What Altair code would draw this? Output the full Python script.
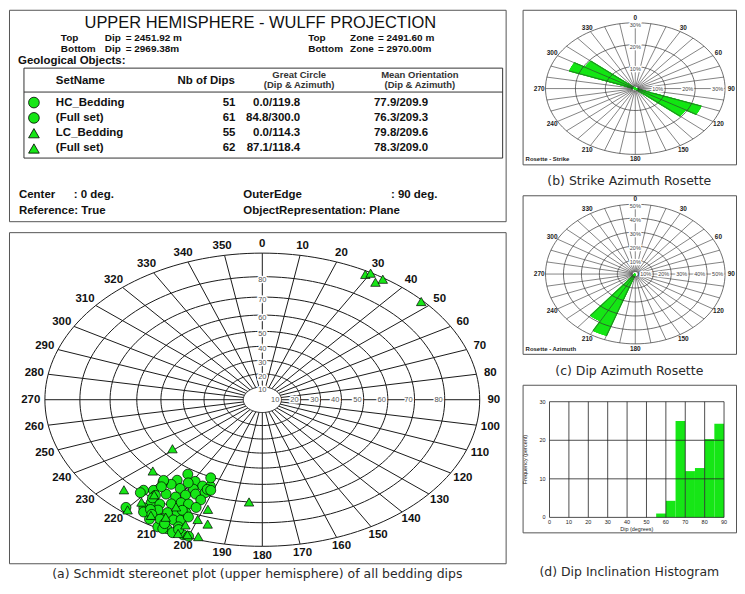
import math
import numpy as np
import pandas as pd
import altair as alt

# ----------------------------- data -----------------------------
table_title = "UPPER HEMISPHERE - WULFF PROJECTION"
set_names = ["HC_Bedding", "(Full set)", "LC_Bedding", "(Full set)"]
set_markers = ["circle", "circle", "triangle-up", "triangle-up"]
nb_dips = [51, 61, 55, 62]
great_circle = ["0.0/119.8", "84.8/300.0", "0.0/114.3", "87.1/118.4"]
mean_orientation = ["77.9/209.9", "76.3/209.3", "79.8/209.6", "78.3/209.0"]

# HC_Bedding poles (azimuth, dip) read from the stereonet (circles)
hc_azimuth = [214, 215.5, 209, 205, 202, 207.5, 212, 216, 219, 219, 221.5, 217, 214.5, 211,
              208.5, 205.5, 202.5, 216, 213.5, 210.5, 208, 205.5, 212.5, 209.5, 207, 209.5,
              206.5, 204.5, 220.5, 209, 206.5, 204, 207.5, 204.5, 201.5, 203.5, 200, 212.5,
              216.5, 215.5, 221.5, 204, 219.5, 202.5, 202.5, 201, 204.5, 202.5, 214.5, 218,
              211, 213, 206, 203, 210, 217, 208]
hc_dip = [63, 68, 65, 66, 65, 69, 71, 71, 72, 77, 79, 78.5, 76, 75.5,
          73, 71, 69, 82, 81, 79, 77, 76.5, 83.5, 83, 81.5, 86,
          85, 84, 88, 89.5, 89, 87, 89.5, 89.8, 89.5, 88, 89.5, 88,
          85, 86.5, 80.5, 60.5, 71, 67, 73, 67, 80.5, 77, 84.5, 74,
          67, 86, 80, 82, 86.5, 80, 87.5]
# LC_Bedding (triangles)
lc_azimuth = [231, 226, 226, 219.5, 218.5, 198.5, 200, 196.5, 185, 197.5, 203, 200.5,
              213, 217.5, 209, 202.5, 208.5, 29, 30, 33, 34, 47.5]
lc_dip = [56, 70, 83, 88.5, 83.5, 76.5, 82, 83, 70, 88.8, 89.5, 89,
          86.5, 78.5, 85, 85.5, 79.5, 88.7, 89.8, 87.4, 89.5, 89.5]

azimuth_ticks = list(range(0, 360, 10))
dip_rings = [10, 20, 30, 40, 50, 60, 70, 80, 90]

strike_rings = [10, 20, 30]
strike_bin_start = [110, 120, 290, 300]
strike_pct = [23.5, 19.5, 23.5, 19.5]

dipaz_rings = [10, 20, 30, 40, 50]
dipaz_bin_start = [200, 210]
dipaz_pct = [47, 39]

hist_bin_start = [55, 60, 65, 70, 75, 80, 85]
hist_pct = [1.0, 4.3, 25.0, 12.0, 12.8, 20.3, 24.3]
hist_xticks = [0, 10, 20, 30, 40, 50, 60, 70, 80, 90]
hist_yticks = [0, 10, 20, 30]

caption_a = "(a) Schmidt stereonet plot (upper hemisphere) of all bedding dips"
caption_b = "(b) Strike Azimuth Rosette"
caption_c = "(c) Dip Azimuth Rosette"
caption_d = "(d) Dip Inclination Histogram"

# ----------------------------- style -----------------------------
GREEN = "#16e616"
LF = "Liberation Sans"
CF = "DejaVu Sans"
INK = "#111111"


def qx(field, dom):
    return alt.X(field, type="quantitative", axis=None,
                 scale=alt.Scale(domain=dom, nice=False, zero=False))


def qy(field, dom, rev=False):
    return alt.Y(field, type="quantitative", axis=None,
                 scale=alt.Scale(domain=dom, nice=False, zero=False, reverse=rev))


def caption(text, offset):
    return alt.TitleParams(text=text, orient="bottom", anchor="middle", offset=offset,
                           font=CF, fontSize=12.5, fontWeight="normal", color="#2a2a2a")


# ----------------------------- (top-left) table -----------------------------
TW, TH, TD = 498, 212, 221
TXD, TYD = [0, TW], [0, TD]
row_y = [97, 113, 129, 145]


def tlayer(records, **mk):
    df = pd.DataFrame(records, columns=["x", "y", "t"])
    return alt.Chart(df).mark_text(**mk).encode(
        x=qx("x", TXD), y=qy("y", TYD, True), text="t:N")


def bold(size):
    return dict(font=LF, fontWeight="bold", fontSize=size, baseline="middle", color=INK)


head_recs = [(52, 29, "Top"), (96, 29, "Dip"), (117, 29, "= 2451.92 m"),
             (52, 41, "Bottom"), (96, 41, "Dip"), (117, 41, "= 2969.38m"),
             (300, 29, "Top"), (342, 29, "Zone"), (370, 29, "= 2491.60 m"),
             (300, 41, "Bottom"), (342, 41, "Zone"), (370, 41, "= 2970.00m")]
left_recs = [(9, 54, "Geological Objects:"),
             (47, 74, "SetName"), (169, 74, "Nb of Dips"),
             (10, 194, "Center"), (65, 194, ": 0 deg."),
             (235, 194, "OuterEdge"), (383, 194, ": 90 deg."),
             (10, 210, "Reference: True"), (235, 210, "ObjectRepresentation: Plane")]
right_recs = []
for i in range(len(set_names)):
    left_recs.append((47, row_y[i], set_names[i]))
    left_recs.append((366, row_y[i], mean_orientation[i]))
    right_recs.append((227, row_y[i], str(nb_dips[i])))
    right_recs.append((292, row_y[i], great_circle[i]))
center_recs = [(291, 68, "Great Circle"), (291, 79, "(Dip & Azimuth)"),
               (412, 68, "Mean Orientation"), (412, 79, "(Dip & Azimuth)")]

marker_df = pd.DataFrame({"x": [25] * 4, "y": row_y, "s": set_markers})
table_markers = alt.Chart(marker_df).mark_point(
    filled=True, size=115, fill=GREEN, stroke="black", strokeWidth=0.8, opacity=1
).encode(x=qx("x", TXD), y=qy("y", TYD, True),
         shape=alt.Shape("s:N", legend=None,
                         scale=alt.Scale(domain=["circle", "triangle-up"],
                                         range=["circle", "triangle-up"])))

# table frame: outer box edges + header separator (layout lines)
frame_df = pd.DataFrame({"x": [15, 15, 15, 495, 15], "x2": [495, 495, 495, 495, 15],
                         "y": [61, 155, 86, 61, 61], "y2": [61, 155, 86, 155, 155]})
table_frame = alt.Chart(frame_df).mark_rule(color="#333", strokeWidth=1).encode(
    x=qx("x", TXD), x2="x2:Q", y=qy("y", TYD, True), y2="y2:Q")

table = alt.layer(
    table_frame,
    tlayer([(252, 14, table_title)], font=LF, fontSize=16.5, align="center",
           baseline="middle", color=INK),
    tlayer(head_recs, align="left", **bold(10)),
    tlayer(left_recs, align="left", **bold(11.5)),
    tlayer(right_recs, align="right", **bold(11.5)),
    tlayer(center_recs, align="center", font=LF, fontWeight="bold", fontSize=9.5,
           baseline="middle", color="#333"),
    table_markers,
).properties(width=TW, height=TH)

# ----------------------------- (a) stereonet -----------------------------
SW, SH = 498, 332
SCX, SCY, SRX, SRY = 254, 168, 218, 147
SXD = [-SCX / SRX, (SW - SCX) / SRX]
SYD = [-(SH - SCY) / SRY, SCY / SRY]


def wulff(d):
    return math.tan(math.radians(d / 2.0))


ring_rows = []
for d in dip_rings:
    r = wulff(d)
    for k, a in enumerate(range(0, 361, 2)):
        t = math.radians(a)
        ring_rows.append({"ring": d, "k": k, "u": r * math.sin(t), "v": r * math.cos(t)})
rings_df = pd.DataFrame(ring_rows)

r_in = wulff(dip_rings[0])
rad_df = pd.DataFrame([{"u": r_in * math.sin(math.radians(a)), "v": r_in * math.cos(math.radians(a)),
                        "u2": math.sin(math.radians(a)), "v2": math.cos(math.radians(a))}
                       for a in azimuth_ticks])

az_df = pd.DataFrame([{"u": 1.065 * math.sin(math.radians(a)), "v": 1.065 * math.cos(math.radians(a)),
                       "t": str(a)} for a in azimuth_ticks])
hlab_df = pd.DataFrame([{"u": wulff(d), "v": 0.0, "t": str(d)} for d in dip_rings[:-1]])
vlab_df = pd.DataFrame([{"u": 0.0, "v": wulff(d), "t": str(d)} for d in dip_rings[:-1]])


def pole_df(az, dip):
    return pd.DataFrame({"u": [wulff(d) * math.sin(math.radians(a)) for a, d in zip(az, dip)],
                         "v": [wulff(d) * math.cos(math.radians(a)) for a, d in zip(az, dip)]})


def s_text(df, **mk):
    return alt.Chart(df).mark_text(**mk).encode(x=qx("u", SXD), y=qy("v", SYD), text="t:N")


stereo = alt.layer(
    alt.Chart(rings_df).mark_line(color="#1a1a1a", strokeWidth=1).encode(
        x=qx("u", SXD), y=qy("v", SYD), detail="ring:N", order="k:Q"),
    alt.Chart(rad_df).mark_rule(color="#1a1a1a", strokeWidth=1).encode(
        x=qx("u", SXD), y=qy("v", SYD), x2="u2:Q", y2="v2:Q"),
    s_text(hlab_df, font=LF, fontSize=7.5, align="right", dx=-2, baseline="middle",
           stroke="white", strokeWidth=3, color="white"),
    s_text(hlab_df, font=LF, fontSize=7.5, align="right", dx=-2, baseline="middle", color="#555"),
    s_text(vlab_df, font=LF, fontSize=7.5, align="center", dy=3, baseline="middle",
           stroke="white", strokeWidth=3, color="white"),
    s_text(vlab_df, font=LF, fontSize=7.5, align="center", dy=3, baseline="middle", color="#555"),
    s_text(az_df, font=LF, fontWeight="bold", fontSize=11.5, align="center", baseline="middle",
           color=INK),
    alt.Chart(pole_df(hc_azimuth, hc_dip)).mark_point(
        shape="circle", filled=True, fill=GREEN, stroke="black", strokeWidth=0.7, size=100, opacity=1
    ).encode(x=qx("u", SXD), y=qy("v", SYD)),
    alt.Chart(pole_df(lc_azimuth, lc_dip)).mark_point(
        shape="triangle-up", filled=True, fill=GREEN, stroke="black", strokeWidth=0.7, size=90,
        opacity=1
    ).encode(x=qx("u", SXD), y=qy("v", SYD)),
).properties(width=SW, height=SH, title=caption(caption_a, 5))


# ----------------------------- rosettes -----------------------------
def rosette(W, H, cx, cy, rx, ry, rings, bins, pcts, corner, cap, cap_off):
    maxp = rings[-1]
    XD = [-cx / rx, (W - cx) / rx]
    YD = [-(H - cy) / ry, cy / ry]
    pet = []
    for b, p in zip(bins, pcts):
        r = p / maxp
        for a in np.arange(b, b + 10.0001, 0.2):
            t = math.radians(a)
            pet.append({"u": 0.0, "v": 0.0, "u2": r * math.sin(t), "v2": r * math.cos(t)})
    ring_rows = []
    for p in rings:
        r = p / maxp
        for k, a in enumerate(range(0, 361, 3)):
            t = math.radians(a)
            ring_rows.append({"ring": p, "k": k, "u": r * math.sin(t), "v": r * math.cos(t)})
    rad = [{"u": 0.03 * math.sin(math.radians(a)), "v": 0.03 * math.cos(math.radians(a)),
            "u2": math.sin(math.radians(a)), "v2": math.cos(math.radians(a))}
           for a in azimuth_ticks]
    azl = [{"u": 1.07 * math.sin(math.radians(a)), "v": 1.07 * math.cos(math.radians(a)),
            "t": str(a)} for a in range(0, 360, 30)]
    hl = [{"u": p / maxp, "v": 0.0, "t": f"{p}%"} for p in rings]
    vl = [{"u": 0.0, "v": p / maxp, "t": f"{p}%"} for p in rings]
    corner_df = pd.DataFrame({"u": [XD[0]], "v": [YD[0]], "t": [corner]})

    def txt(rows, **mk):
        return alt.Chart(pd.DataFrame(rows)).mark_text(**mk).encode(
            x=qx("u", XD), y=qy("v", YD), text="t:N")

    return alt.layer(
        alt.Chart(pd.DataFrame(pet)).mark_rule(color=GREEN, strokeWidth=1.4).encode(
            x=qx("u", XD), y=qy("v", YD), x2="u2:Q", y2="v2:Q"),
        alt.Chart(pd.DataFrame(ring_rows)).mark_line(color="#333", strokeWidth=0.7).encode(
            x=qx("u", XD), y=qy("v", YD), detail="ring:N", order="k:Q"),
        alt.Chart(pd.DataFrame(rad)).mark_rule(color="#333", strokeWidth=0.6).encode(
            x=qx("u", XD), y=qy("v", YD), x2="u2:Q", y2="v2:Q"),
        txt(hl, font=LF, fontSize=5.5, align="right", dx=-2, baseline="middle",
            stroke="white", strokeWidth=2.5, color="white"),
        txt(hl, font=LF, fontSize=5.5, align="right", dx=-2, baseline="middle", color="#444"),
        txt(vl, font=LF, fontSize=5.5, align="center", dy=2, baseline="middle",
            stroke="white", strokeWidth=2.5, color="white"),
        txt(vl, font=LF, fontSize=5.5, align="center", dy=2, baseline="middle", color="#444"),
        txt(azl, font=LF, fontWeight="bold", fontSize=6.5, align="center", baseline="middle",
            color="#222"),
        txt(corner_df, font=LF, fontWeight="bold", fontSize=6, align="left", baseline="bottom",
            dx=3, dy=-2, color="#222"),
    ).properties(width=W, height=H, title=caption(cap, cap_off))


strike = rosette(214, 155, 113, 79, 90, 66, strike_rings, strike_bin_start, strike_pct,
                 "Rosette - Strike", caption_b, 11)
dipaz = rosette(214, 159, 113, 79, 90, 70, dipaz_rings, dipaz_bin_start, dipaz_pct,
                "Rosette - Azimuth", caption_c, 11)

# ----------------------------- (d) histogram -----------------------------
HW, HH = 214, 148
hx0, hx90, hy0, hy30 = 27, 202, 133, 17
HXD = [-hx0 * 90 / (hx90 - hx0), (HW - hx0) * 90 / (hx90 - hx0)]
HYD = [-(HH - hy0) * 30 / (hy0 - hy30), hy0 * 30 / (hy0 - hy30)]

bars_df = pd.DataFrame({"x0": hist_bin_start, "x1": [b + 5 for b in hist_bin_start],
                        "pct": hist_pct, "zero": [0.0] * len(hist_pct)})
vgrid = pd.DataFrame({"x": hist_xticks, "y": [0] * len(hist_xticks),
                      "y2": [hist_yticks[-1]] * len(hist_xticks)})
hgrid = pd.DataFrame({"y": hist_yticks, "x": [0] * len(hist_yticks),
                      "x2": [hist_xticks[-1]] * len(hist_yticks)})
xt = pd.DataFrame({"x": hist_xticks, "y": [0] * len(hist_xticks), "t": [str(v) for v in hist_xticks]})
yt = pd.DataFrame({"x": [0] * len(hist_yticks), "y": hist_yticks, "t": [str(v) for v in hist_yticks]})
xtitle = pd.DataFrame({"x": [45], "y": [0], "t": ["Dip (degrees)"]})
ytitle = pd.DataFrame({"x": [HXD[0]], "y": [15], "t": ["Frequency (percent)"]})

hist = alt.layer(
    alt.Chart(bars_df).mark_rect(color=GREEN).encode(
        x=qx("x0", HXD), x2="x1:Q", y=qy("pct", HYD), y2="zero:Q"),
    alt.Chart(vgrid).mark_rule(color="#222", strokeWidth=0.8).encode(
        x=qx("x", HXD), y=qy("y", HYD), y2="y2:Q"),
    alt.Chart(hgrid).mark_rule(color="#222", strokeWidth=0.8).encode(
        y=qy("y", HYD), x=qx("x", HXD), x2="x2:Q"),
    alt.Chart(xt).mark_text(font=LF, fontSize=5.5, baseline="top", dy=3, color="#222").encode(
        x=qx("x", HXD), y=qy("y", HYD), text="t:N"),
    alt.Chart(yt).mark_text(font=LF, fontSize=5.5, align="right", dx=-4, baseline="middle",
                            color="#222").encode(x=qx("x", HXD), y=qy("y", HYD), text="t:N"),
    alt.Chart(xtitle).mark_text(font=LF, fontSize=5.5, baseline="top", dy=10, color="#222").encode(
        x=qx("x", HXD), y=qy("y", HYD), text="t:N"),
    alt.Chart(ytitle).mark_text(font=LF, fontSize=5.5, angle=270, baseline="top", dx=0, dy=0,
                                color="#222").encode(x=qx("x", HXD), y=qy("y", HYD), text="t:N"),
).properties(width=HW, height=HH, title=caption(caption_d, 33))

# ----------------------------- assemble -----------------------------
left = alt.vconcat(table, stereo, spacing=9)
right = alt.vconcat(strike, dipaz, hist, spacing=6)
chart = alt.hconcat(left, right, spacing=15).properties(
    padding=0, background="white"
).configure_view(stroke="#555", strokeWidth=1)

chart.save("out.html", embed_options={"renderer": "svg", "actions": False})
